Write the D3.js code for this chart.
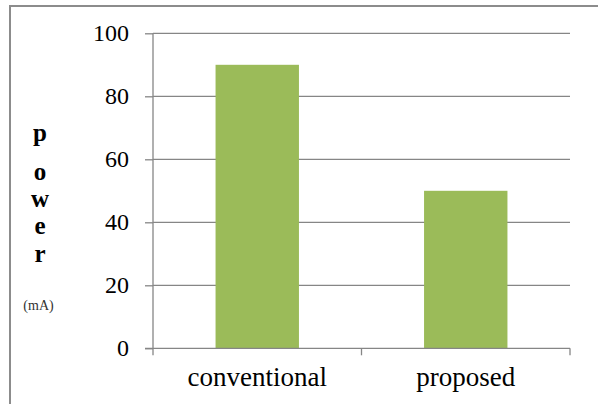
<!DOCTYPE html>
<html><head><meta charset="utf-8">
<script src="https://cdn.jsdelivr.net/npm/d3@7"></script>
<style>html,body{margin:0;padding:0;background:#fff;overflow:hidden}
svg text{font-family:"Liberation Serif","DejaVu Serif" !important;}</style>
</head><body>
<svg id="c" width="598" height="404"></svg>
<script>
const categories = ["conventional", "proposed"];
const values = [90, 50];
const yTicks = [0, 20, 40, 60, 80, 100];
const titleLetters = ["p", "o", "w", "e", "r"];
const unitLabel = "(mA)";

(function () {
const svg = d3.select("#c");
const pLeft = 153, pRight = 570, pTop = 33.3, pBottom = 348.3;
const grey = "#868686";

// outer border
svg.append("rect").attr("x", 10).attr("y", 6).attr("width", 620).attr("height", 420)
  .attr("fill", "none").attr("stroke", "#8c8c8c").attr("stroke-width", 2);

const x = d3.scaleBand().domain(categories).range([pLeft, pRight]).paddingInner(0.6).paddingOuter(0.3);
const y = d3.scaleLinear().domain([0, 100]).range([pBottom, pTop]);

// left axis with ticks
const yAxis = d3.axisLeft(y).tickValues(yTicks).tickSize(8).tickPadding(16).tickFormat(d3.format("d"));
const gy = svg.append("g").attr("transform", `translate(${pLeft},0)`).call(yAxis);
gy.attr("font-family", null);
gy.select(".domain").attr("stroke", grey).attr("stroke-width", 1.3).attr("d", `M0,${pTop}V${pBottom}`);
gy.selectAll(".tick line").attr("stroke", grey).attr("stroke-width", 1.3);
gy.selectAll(".tick text").style("font-size", "24px").attr("fill", "#000");

// gridlines
svg.append("g").selectAll("line").data(yTicks.filter(d => d > 0)).join("line")
  .attr("x1", pLeft).attr("x2", pRight).attr("y1", d => y(d)).attr("y2", d => y(d))
  .attr("stroke", grey).attr("stroke-width", 1.3);

// bars
svg.append("g").selectAll("rect").data(values).join("rect")
  .attr("x", (d, i) => x(categories[i])).attr("width", x.bandwidth())
  .attr("y", d => y(d)).attr("height", d => y(0) - y(d))
  .attr("fill", "#9BBB59");

// bottom axis
const boundaries = [pLeft, pLeft + (pRight - pLeft) / 2, pRight];
svg.append("line").attr("x1", pLeft - 8).attr("x2", pRight).attr("y1", pBottom).attr("y2", pBottom)
  .attr("stroke", grey).attr("stroke-width", 1.3);
svg.append("g").selectAll("line").data(boundaries).join("line")
  .attr("x1", d => d).attr("x2", d => d).attr("y1", pBottom).attr("y2", pBottom + 7)
  .attr("stroke", grey).attr("stroke-width", 1.3);
svg.append("g").selectAll("text").data(categories).join("text")
  .attr("x", d => x(d) + x.bandwidth() / 2).attr("y", 386)
  .attr("text-anchor", "middle")
  .style("font-size", "27px").attr("fill", "#000").text(d => d);

// y title
const titleY = [141, 180, 207, 234, 262];
svg.append("g").selectAll("text").data(titleLetters).join("text")
  .attr("x", 40).attr("y", (d, i) => titleY[i]).attr("text-anchor", "middle")
  .style("font-weight", "bold").style("font-size", "25px")
  .attr("fill", "#000").text(d => d);
svg.append("text").attr("x", 38.5).attr("y", 310).attr("text-anchor", "middle")
  .style("font-size", "14px").attr("fill", "#333").text(unitLabel);
})();
</script>
</body></html>
